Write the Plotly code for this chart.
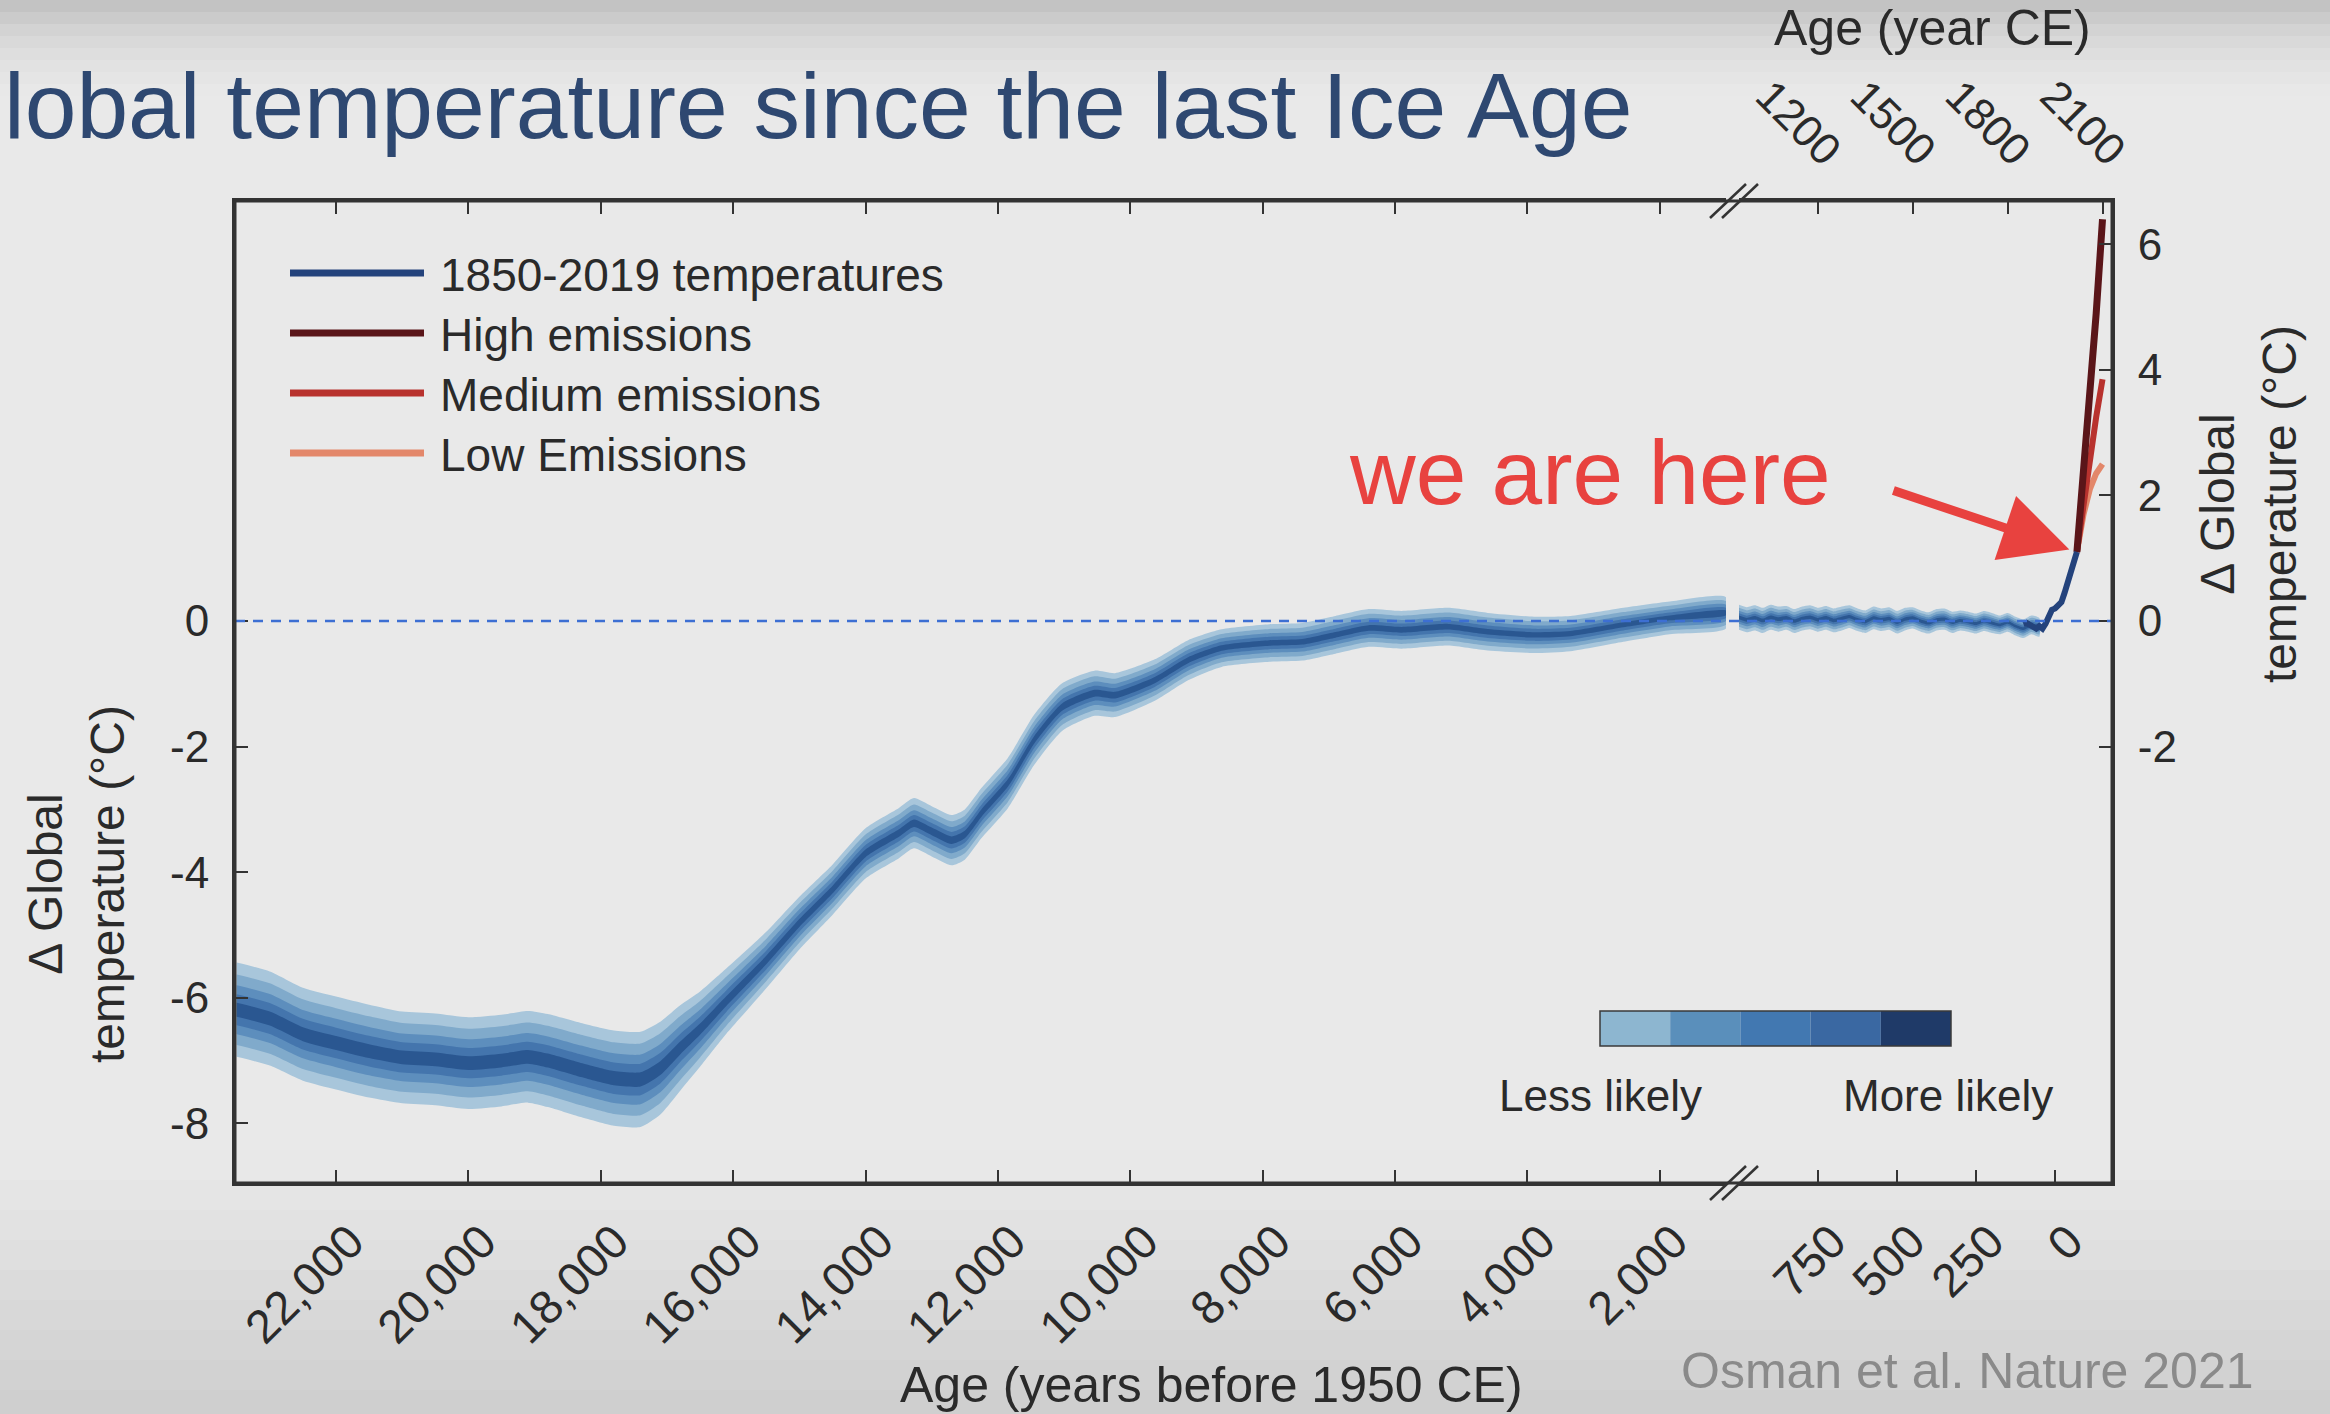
import plotly.graph_objects as go

# ---------------- data ----------------
# Reconstruction (left, pre-break part of the axis), years before 1950 CE
ages_left = [23500, 23000, 22500, 22000, 21500, 21000, 20500, 20000, 19500, 19100,
             18800, 18300, 17800, 17400, 17100, 16800, 16500, 16100, 15500, 15000,
             14500, 14000, 13500, 13270, 13000, 12700, 12500, 12250, 11850, 11450,
             11030, 10540, 10230, 9630, 9120, 8620, 7900, 7400, 6900, 6400,
             5900, 5200, 4600, 3900, 3350, 2550, 1850, 1000]
temps_left = [-6.19, -6.33, -6.58, -6.72, -6.85, -6.95, -6.98, -7.04, -7.00, -6.94,
              -7.00, -7.15, -7.28, -7.30, -7.12, -6.80, -6.50, -6.05, -5.40, -4.81,
              -4.28, -3.70, -3.38, -3.22, -3.35, -3.49, -3.40, -3.06, -2.58, -1.89,
              -1.37, -1.15, -1.18, -0.94, -0.62, -0.43, -0.35, -0.33, -0.22, -0.11,
              -0.14, -0.09, -0.17, -0.22, -0.20, -0.06, 0.05, 0.13]
spread_left = [0.75, 0.75, 0.74, 0.74, 0.74, 0.73, 0.73, 0.73, 0.73, 0.73,
               0.74, 0.75, 0.76, 0.76, 0.74, 0.68, 0.60, 0.52, 0.45, 0.42,
               0.40, 0.40, 0.40, 0.40, 0.40, 0.40, 0.40, 0.40, 0.40, 0.40,
               0.38, 0.36, 0.35, 0.33, 0.32, 0.30, 0.30, 0.30, 0.30, 0.30,
               0.30, 0.30, 0.30, 0.29, 0.28, 0.27, 0.26, 0.25]

# Reconstruction (right, post-break part), years before 1950 CE
ages_right = [1000, 975, 950, 925, 900, 875, 850, 825, 800, 775, 750, 725, 700, 675,
              650, 625, 600, 575, 550, 525, 500, 475, 450, 425, 400, 375, 350, 325,
              300, 275, 250, 225, 200, 175, 150, 125, 100, 75, 50]
temps_right = [0.06, 0.02, 0.05, 0.01, 0.06, 0.03, 0.05, 0.00, 0.04, 0.06, 0.02, 0.05,
               0.01, 0.04, 0.07, 0.02, -0.01, 0.05, 0.02, 0.04, -0.02, 0.03, 0.05, 0.00,
               -0.03, 0.02, 0.03, -0.02, 0.01, -0.01, -0.04, 0.00, -0.03, -0.06, -0.02,
               -0.08, -0.12, -0.06, -0.10]
spread_right = [0.20, 0.20, 0.20, 0.20, 0.20, 0.20, 0.19, 0.19, 0.19, 0.19, 0.19, 0.19,
                0.19, 0.19, 0.18, 0.18, 0.18, 0.18, 0.18, 0.18, 0.18, 0.18, 0.17, 0.17,
                0.17, 0.17, 0.17, 0.17, 0.16, 0.16, 0.16, 0.16, 0.16, 0.15, 0.15, 0.15,
                0.15, 0.15, 0.15]

# Instrumental temperatures (year CE)
modern_years = [1850, 1860, 1870, 1880, 1890, 1900, 1910, 1920, 1930, 1940,
                1950, 1960, 1970, 1980, 1990, 2000, 2010, 2019]
modern_temps = [-0.05, -0.03, -0.06, -0.10, -0.12, -0.08, -0.12, -0.04, 0.06, 0.18,
                0.20, 0.24, 0.30, 0.45, 0.60, 0.75, 0.92, 1.10]

# Projections (year CE)
proj_years = [2019, 2040, 2060, 2080, 2100]
high_emissions = [1.10, 2.30, 3.50, 4.90, 6.40]
medium_emissions = [1.10, 1.90, 2.60, 3.25, 3.85]
low_emissions = [1.10, 1.70, 2.10, 2.35, 2.50]

# Ticks
bottom_ticks_left = [22000, 20000, 18000, 16000, 14000, 12000, 10000, 8000, 6000, 4000, 2000]
bottom_ticks_right = [750, 500, 250, 0]
top_years = [1200, 1500, 1800, 2100]
y_ticks_left = [0, -2, -4, -6, -8]
y_ticks_right = [-2, 0, 2, 4, 6]

legend_labels = ["1850-2019 temperatures", "High emissions", "Medium emissions", "Low Emissions"]
likelihood_labels = ["Less likely", "More likely"]

# ---------------- styling ----------------
FONT = "Liberation Sans, Arial, Helvetica, sans-serif"
TXT = "#2a2a2a"
band_fracs = [1.0, 0.75, 0.52, 0.33, 0.15]
band_colors = ["#a8c6db", "#80aacb", "#5d8ebd", "#4475ad", "#2a5791"]
cbar_colors = ["#8db6d0", "#5a8fbb", "#4278b1", "#3a68a2", "#1f3a68"]
c_modern, c_high, c_med, c_low = "#24437c", "#5a1519", "#b8322e", "#e3876a"

W_FIG, H_FIG = 2330, 1414
PL, PR, PT, PB = 235, 2112, 201, 1183
PW, PH = PR - PL, PB - PT


def fx(x):
    return (x - PL) / PW


def fy(y):
    return (PB - y) / PH


SPLIT_L, SPLIT_R = fx(1726), fx(1739)

fig = go.Figure()

# uncertainty bands
for ages, temps, spread, xa in [(ages_left, temps_left, spread_left, "x"),
                                (ages_right, temps_right, spread_right, "x2")]:
    for frac, col in zip(band_fracs, band_colors):
        up = [t + frac * s for t, s in zip(temps, spread)]
        lo = [t - frac * s for t, s in zip(temps, spread)]
        fig.add_trace(go.Scatter(
            x=ages + ages[::-1], y=up + lo[::-1], xaxis=xa, yaxis="y",
            fill="toself", fillcolor=col, mode="lines",
            line=dict(width=0, color=col, shape="spline", smoothing=0.6),
            hoverinfo="skip", showlegend=False))

# projections and instrumental record
series = [(proj_years, low_emissions, c_low, legend_labels[3], 6),
          (proj_years, medium_emissions, c_med, legend_labels[2], 6),
          (proj_years, high_emissions, c_high, legend_labels[1], 7),
          (modern_years, modern_temps, c_modern, legend_labels[0], 6)]
for xs, ys, col, name, w in series:
    fig.add_trace(go.Scatter(x=xs, y=ys, xaxis="x3", yaxis="y2", mode="lines",
                             line=dict(color=col, width=w), name=name, showlegend=False))

shapes = []
# background gradient (slide look)
top_cols = ["#c3c3c3", "#cbcbcb", "#d3d3d3", "#d9d9d9", "#dedede", "#e2e2e2", "#e5e5e5", "#e8e8e8"]
for i, c in enumerate(top_cols):
    shapes.append(dict(type="rect", xref="paper", yref="paper", layer="below",
                       x0=fx(0), x1=fx(W_FIG), y0=fy(i * 12 + 12), y1=fy(i * 12),
                       fillcolor=c, line=dict(width=0)))
bot_cols = ["#e8e8e8", "#e5e5e5", "#e2e2e2", "#dfdfdf", "#dbdbdb", "#d8d8d8", "#d5d5d5", "#d2d2d2", "#cfcfcf"]
for i, c in enumerate(bot_cols):
    y0 = 1150 + i * 30
    shapes.append(dict(type="rect", xref="paper", yref="paper", layer="below",
                       x0=fx(0), x1=fx(W_FIG), y0=fy(min(y0 + 30, H_FIG)), y1=fy(y0),
                       fillcolor=c, line=dict(width=0)))

# zero line
shapes.append(dict(type="line", xref="paper", yref="y", x0=0, x1=1, y0=0, y1=0,
                   line=dict(color="#3d6fd3", width=2.5, dash="10px,8px"), layer="above"))
# frame
shapes.append(dict(type="rect", xref="paper", yref="paper", x0=0, x1=1, y0=0, y1=1,
                   line=dict(color="#333333", width=3), layer="above"))
# axis-break marks
for yb in (PT, PB):
    for dxo in (-6, 6):
        shapes.append(dict(type="line", xref="paper", yref="paper", layer="above",
                           x0=fx(1716 + dxo), y0=fy(yb + 17), x1=fx(1752 + dxo), y1=fy(yb - 17),
                           line=dict(color="#333333", width=2.5)))
# legend swatches
leg_cols = [c_modern, c_high, c_med, c_low]
leg_y = [273, 333, 393, 453]
for col, yy in zip(leg_cols, leg_y):
    shapes.append(dict(type="line", xref="paper", yref="paper", x0=fx(290), x1=fx(424),
                       y0=fy(yy), y1=fy(yy), line=dict(color=col, width=7)))
# likelihood colour bar
cb_x0, cb_w, cb_y0, cb_y1 = 1600, 70.2, 1011, 1046
for i, col in enumerate(cbar_colors):
    shapes.append(dict(type="rect", xref="paper", yref="paper",
                       x0=fx(cb_x0 + i * cb_w), x1=fx(cb_x0 + (i + 1) * cb_w),
                       y0=fy(cb_y1), y1=fy(cb_y0), fillcolor=col, line=dict(width=0)))
shapes.append(dict(type="rect", xref="paper", yref="paper", x0=fx(cb_x0), x1=fx(cb_x0 + 5 * cb_w),
                   y0=fy(cb_y1), y1=fy(cb_y0), line=dict(color="#3a3a3a", width=1.5)))

ann = []
ann.append(dict(text="lobal temperature since the last Ice Age", xref="paper", yref="paper",
                x=fx(2), y=fy(106), xanchor="left", yanchor="middle", showarrow=False,
                font=dict(family=FONT, size=93, color="#2e4871")))
ann.append(dict(text="Age (year CE)", xref="paper", yref="paper", x=fx(1932), y=fy(28),
                xanchor="center", yanchor="middle", showarrow=False,
                font=dict(family=FONT, size=50, color=TXT)))
ann.append(dict(text="Age (years before 1950 CE)", xref="paper", yref="paper", x=fx(1211), y=fy(1385),
                xanchor="center", yanchor="middle", showarrow=False,
                font=dict(family=FONT, size=50, color=TXT)))
ann.append(dict(text="Osman et al. Nature 2021", xref="paper", yref="paper", x=fx(1679), y=fy(1371),
                xanchor="left", yanchor="middle", showarrow=False,
                font=dict(family=FONT, size=50, color="#8a8a8a")))
ann.append(dict(text="Δ Global<br>temperature (°C)", xref="paper", yref="paper", x=fx(76), y=fy(884),
                xanchor="center", yanchor="middle", textangle=-90, showarrow=False,
                font=dict(family=FONT, size=48, color=TXT)))
ann.append(dict(text="Δ Global<br>temperature (°C)", xref="paper", yref="paper", x=fx(2249), y=fy(504),
                xanchor="center", yanchor="middle", textangle=-90, showarrow=False,
                font=dict(family=FONT, size=48, color=TXT)))
for lab, yy in zip(legend_labels, leg_y):
    ann.append(dict(text=lab, xref="paper", yref="paper", x=fx(438), y=fy(yy + 2),
                    xanchor="left", yanchor="middle", showarrow=False,
                    font=dict(family=FONT, size=46, color=TXT)))
ann.append(dict(text=likelihood_labels[0], xref="paper", yref="paper", x=fx(1600), y=fy(1095),
                xanchor="center", yanchor="middle", showarrow=False,
                font=dict(family=FONT, size=44, color=TXT)))
ann.append(dict(text=likelihood_labels[1], xref="paper", yref="paper", x=fx(1948), y=fy(1095),
                xanchor="center", yanchor="middle", showarrow=False,
                font=dict(family=FONT, size=44, color=TXT)))
ann.append(dict(text="we are here", xref="paper", yref="paper", x=fx(1590), y=fy(472),
                xanchor="center", yanchor="middle", showarrow=False,
                font=dict(family=FONT, size=91, color="#e8423f")))
ann.append(dict(text="", xref="x3", yref="y2", x=modern_years[-1], y=modern_temps[-1],
                ax=-185, ay=-62, showarrow=True, arrowhead=2, arrowsize=1.5, arrowwidth=9,
                arrowcolor="#e8423f", standoff=8))

tickfont = dict(family=FONT, size=44, color=TXT)
common = dict(showgrid=False, zeroline=False, ticks="inside", ticklen=13, tickwidth=2,
              tickcolor="#333333", showline=True, linecolor="#333333", linewidth=3)
bottom_font = dict(family=FONT, size=47, color=TXT)

fig.update_layout(
    width=W_FIG, height=H_FIG, autosize=False,
    margin=dict(l=PL, r=W_FIG - PR, t=PT, b=H_FIG - PB, pad=0),
    paper_bgcolor="#e9e9e9", plot_bgcolor="rgba(0,0,0,0)",
    showlegend=False, shapes=shapes, annotations=ann,
    xaxis=dict(domain=[0, SPLIT_L], range=[23526, 1000], anchor="y", mirror="ticks",
               tickvals=bottom_ticks_left, ticktext=[f"{v:,}" for v in bottom_ticks_left],
               tickangle=-45, ticklabelstandoff=9, ticklabelshift=-14, tickfont=bottom_font, **common),
    xaxis2=dict(domain=[SPLIT_R, 1], range=[1000, -180], anchor="y",
                tickvals=bottom_ticks_right, ticktext=[str(v) for v in bottom_ticks_right],
                tickangle=-45, ticklabelstandoff=9, ticklabelshift=-14, tickfont=bottom_font, **common),
    xaxis3=dict(overlaying="x2", anchor="y", side="top", range=[950, 2130],
                tickvals=top_years, ticktext=[str(v) for v in top_years],
                tickangle=45, ticklabelstandoff=6, ticklabelshift=20, tickfont=tickfont, **common),
    yaxis=dict(domain=[0, 1], range=[-8.95, 6.69], anchor="x", side="left",
               tickvals=y_ticks_left, ticktext=[str(v) for v in y_ticks_left],
               ticklabelstandoff=14, tickfont=tickfont, **common),
    yaxis2=dict(overlaying="y", anchor="x2", side="right", range=[-8.95, 6.69],
                tickvals=y_ticks_right, ticktext=[str(v) for v in y_ticks_right],
                ticklabelstandoff=14, tickfont=tickfont, **common),
)

fig.write_html("out.html", config={"displayModeBar": False},
               post_script="document.body.style.margin='0';")
